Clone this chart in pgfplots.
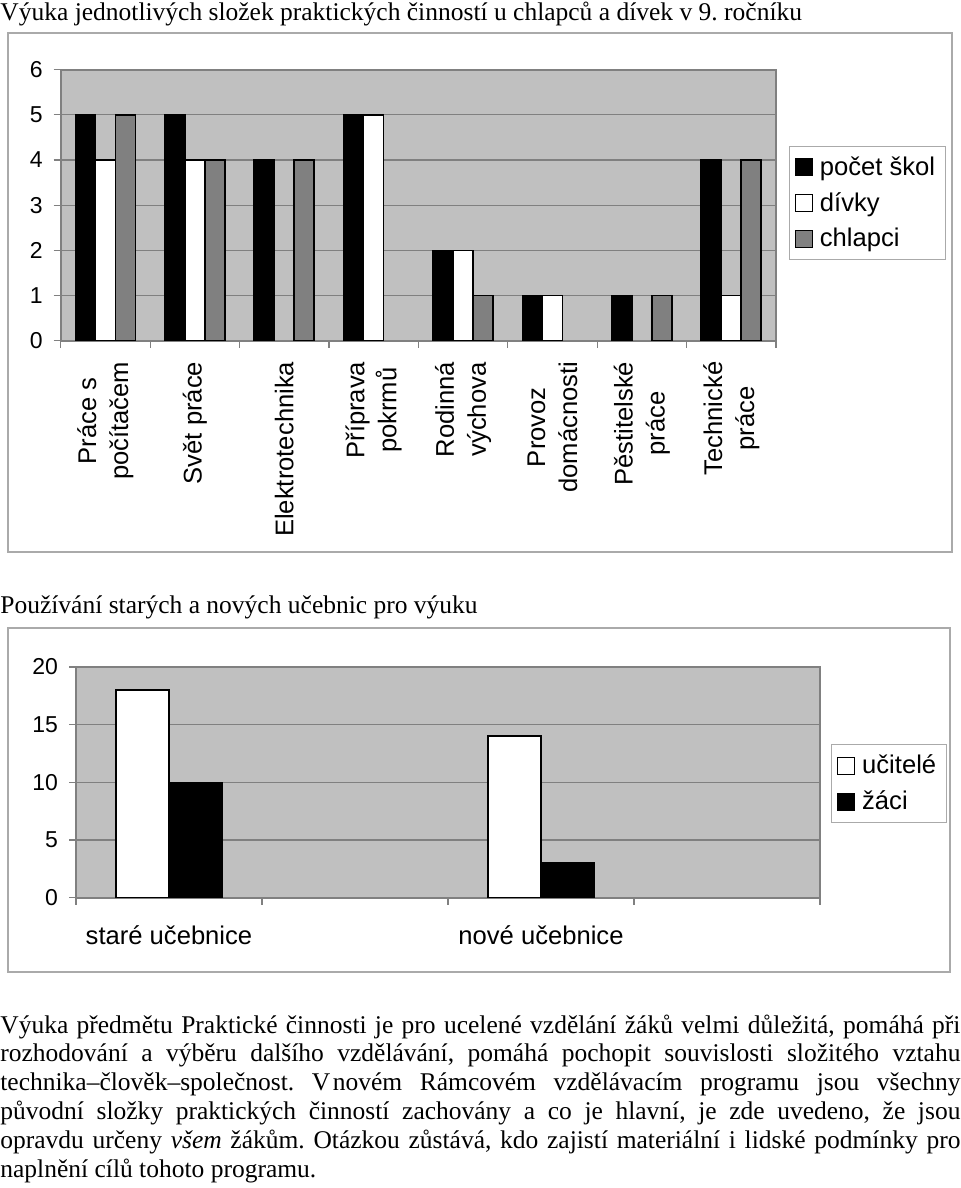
\documentclass[border=0pt]{standalone}
\usepackage{pgfplots}
\pgfplotsset{compat=1.18}
\usepackage{fontspec}
\setmainfont{Liberation Serif}
\newfontfamily\arial{Liberation Sans}
\definecolor{plotbg}{RGB}{192,192,192}
\definecolor{bargray}{RGB}{128,128,128}
\definecolor{axgray}{RGB}{128,128,128}
\definecolor{framegray}{RGB}{170,170,170}
\newcommand{\lfont}{\arial\fontsize{12.8pt}{16pt}\selectfont}
\newcommand{\tfont}{\arial\fontsize{11.5pt}{14pt}\selectfont}
\newcommand{\sfont}{\fontsize{12.75pt}{15pt}\selectfont}
\frenchspacing
\pgfplotsset{
  excel/.style={
    scale only axis,
    axis background/.style={fill=plotbg},
    axis line style={draw=axgray, line width=1pt},
    ybar=0pt,
    ymin=0,
    ymajorgrids, grid style={axgray, line width=0.6pt},
    x tick label as interval,
    major tick length=3.5pt,
    tick align=outside, xtick pos=bottom, ytick pos=left,
    tick style={axgray, line width=0.6pt},
    y tick label style={font=\tfont, xshift=-2pt},
    /pgf/number format/assume math mode=true,
    legend cell align=left,
    legend style={draw=framegray, fill=white, font=\lfont,
      inner sep=3pt, row sep=3pt, column sep=1.5pt,
      nodes={inner sep=2pt}},
  },
  sq/.style={legend image code/.code={\draw[##1,line width=0.6pt] (0pt,-4.2pt) rectangle (8.4pt,4.2pt);}},
}
\begin{document}
\begin{tikzpicture}
\useasboundingbox (0,0) rectangle (480pt,-594pt);
\begin{scope}[x=0.5pt,y=-0.5pt]
\fill[white] (0,0) rectangle (960,1188);
\draw[framegray, line width=0.6pt] (8,33) rectangle (952,552);
\draw[framegray, line width=0.6pt] (8,628) rectangle (950,972);
\node[anchor=base west, inner sep=0, font=\sfont] at (0,21) {Výuka jednotlivých složek praktických činností u chlapců a dívek v 9. ročníku};
\node[anchor=base west, inner sep=0, font=\sfont] at (0,613) {Používání starých a nových učebnic pro výuku};
\foreach \t [count=\i from 0] in {
  {Výuka předmětu Praktické činnosti je pro ucelené vzdělání žáků velmi důležitá, pomáhá při},
  {rozhodování a výběru dalšího vzdělávání, pomáhá pochopit souvislosti složitého vztahu},
  {technika–člověk–společnost. V\hspace{0.1em}novém Rámcovém vzdělávacím programu jsou všechny},
  {původní složky praktických činností zachovány a co je hlavní, je zde uvedeno, že jsou},
  {opravdu určeny \textit{všem} žákům. Otázkou zůstává, kdo zajistí materiální i lidské podmínky pro}}
  {\node[anchor=base west, inner sep=0, font=\sfont] at (0,1033+28.8*\i) {\makebox[480pt][s]{\t}};}
\node[anchor=base west, inner sep=0, font=\sfont] at (0,1177) {naplnění cílů tohoto programu.};
\end{scope}

\begin{axis}[excel,
  at={(30.35pt,-170.35pt)}, anchor=south west,
  width=357.65pt, height=135.6pt,
  bar width=10pt,
  xmin=0, xmax=8, ymax=6,
  ytick={0,...,6},
  xtick={0,...,8},
  xticklabels={{Práce s\\počítačem},{Svět práce},{Elektrotechnika},{Příprava\\pokrmů},{Rodinná\\výchova},{Provoz\\domácnosti},{Pěstitelské\\práce},{Technické\\práce}},
  x tick label style={rotate=90, anchor=east, align=center, font=\lfont},
  xticklabel shift=3.5pt,
  legend style={at={(1.0175,0.717)}, anchor=north west},
]
\addplot[sq, fill=black, draw=black, line width=0.8pt] coordinates {(0.5,5)(1.5,5)(2.5,4)(3.5,5)(4.5,2)(5.5,1)(6.5,1)(7.5,4)};
\addplot[sq, fill=white, draw=black, line width=0.8pt] coordinates {(0.5,4)(1.5,4)(3.5,5)(4.5,2)(5.5,1)(7.5,1)};
\addplot[sq, fill=bargray, draw=black, line width=0.8pt] coordinates {(0.5,5)(1.5,4)(2.5,4)(4.5,1)(6.5,1)(7.5,4)};
\legend{počet škol, dívky, chlapci}
\end{axis}

\begin{axis}[excel,
  at={(38pt,-448.8pt)}, anchor=south west,
  width=372pt, height=115.3pt,
  bar width=26.5pt,
  xmin=0, xmax=4, ymax=20,
  ytick={0,5,...,20},
  xtick={0,...,4},
  xticklabels={staré učebnice,,nové učebnice,},
  x tick label style={font=\lfont},
  xticklabel shift=7pt,
  legend style={at={(1.0145,0.664)}, anchor=north west},
]
\addplot[sq, fill=white, draw=black, line width=0.8pt] coordinates {(0.5,18)(2.5,14)};
\addplot[sq, fill=black, draw=black, line width=0.8pt] coordinates {(0.5,10)(2.5,3)};
\legend{učitelé, žáci}
\end{axis}
\end{tikzpicture}
\end{document}
